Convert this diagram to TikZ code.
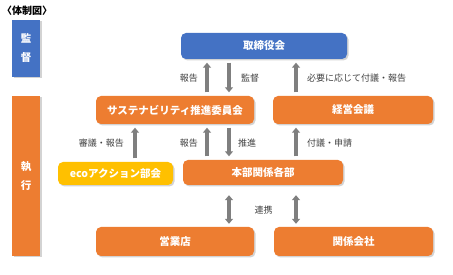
\documentclass[tikz,border=0pt]{standalone}
\usepackage{fontspec}
\setmainfont{Noto Sans CJK JP}
\usetikzlibrary{arrows.meta,positioning,shadows}
\definecolor{BoardBlue}{HTML}{4472C4}
\definecolor{ExecOrange}{HTML}{ED7D31}
\definecolor{EcoYellow}{HTML}{FFC000}
\definecolor{ArrGray}{HTML}{7F7F7F}
\definecolor{LabelGray}{HTML}{404040}

\begin{document}
\begin{tikzpicture}[x=1pt,y=-1pt,
unit/.style={rounded corners=5pt,text=white,inner sep=0pt,font=\bfseries\fontsize{10.5}{12}\selectfont,
  drop shadow={shadow xshift=1.5pt,shadow yshift=-1.5pt,opacity=0.35}},
bar/.style={minimum width=28pt,inner sep=0pt,text=white,align=center,font=\bfseries\fontsize{10.5}{12}\selectfont,
  drop shadow={shadow xshift=1.5pt,shadow yshift=-1.5pt,opacity=0.35}},
lbl/.style={text=LabelGray,inner sep=1pt,font=\fontsize{9}{11}\selectfont},
garr/.style={draw=ArrGray,line width=4pt,-{Triangle[width=8pt,length=5pt]},shorten <=3.5pt,shorten >=3.5pt},
gboth/.style={draw=ArrGray,line width=4pt,{Triangle[width=8pt,length=5pt]}-{Triangle[width=8pt,length=5pt]}}]
\useasboundingbox (0,0) rectangle (453,275);
\node[anchor=west,inner sep=0pt,font=\bfseries\fontsize{10}{12}\selectfont] (title) at (2,11) {〈体制図〉};
% side bars
\node[bar,fill=BoardBlue,minimum height=57pt] (kansa) at (26,48.5) {監\\[7pt]督};
\node[bar,fill=ExecOrange,minimum height=160pt] (shikko) at (26,176) {執\\[7pt]行};
% bodies
\node[unit,fill=BoardBlue,minimum width=166pt,minimum height=26pt] (board) at (264,46) {取締役会};
\node[unit,fill=ExecOrange,minimum width=158pt,minimum height=28pt] (sus) at (175,110) {サステナビリティ推進委員会};
\node[unit,fill=ExecOrange,minimum width=160pt,minimum height=28pt] (mgmt) at (353,110) {経営会議};
\node[unit,fill=EcoYellow,minimum width=115pt,minimum height=23pt] (eco) at (115.5,173.5) {ecoアクション部会};
\node[unit,fill=ExecOrange,minimum width=160pt,minimum height=25pt] (hq) at (263,172.5) {本部関係各部};
\node[unit,fill=ExecOrange,minimum width=158pt,minimum height=29pt] (branch) at (175,241.5) {営業店};
\node[unit,fill=ExecOrange,minimum width=159pt,minimum height=29pt] (affil) at (353.5,241.5) {関係会社};
% arrow columns
\coordinate (colD) at (135,0);
\coordinate (colA) at (207,0);
\coordinate (colB) at (229,0);
\coordinate (colC) at (296,0);
\draw[garr] (sus.north -| colA) -- (board.south -| colA);
\draw[garr] (board.south -| colB) -- (sus.north -| colB);
\draw[garr] (mgmt.north -| colC) -- (board.south -| colC);
\draw[garr] (eco.north -| colD) -- (sus.south -| colD);
\draw[garr] (hq.north -| colA) -- (sus.south -| colA);
\draw[garr] (sus.south -| colB) -- (hq.north -| colB);
\draw[garr] (hq.north -| colC) -- (mgmt.south -| colC);
\draw[gboth,shorten <=10pt,shorten >=3pt] (hq.south -| colB) -- (branch.north -| colB);
\draw[gboth,shorten <=10pt,shorten >=3pt] (hq.south -| colC) -- (affil.north -| colC);
% labels
\node[lbl,anchor=east] (l1) at (199,78) {報告};
\node[lbl,anchor=west] (l2) at (240,78) {監督};
\node[lbl,anchor=west] (l3) at (306,78) {必要に応じて付議・報告};
\node[lbl,anchor=east] (l4) at (125,143) {審議・報告};
\node[lbl,anchor=east] (l5) at (199,143) {報告};
\node[lbl,anchor=west] (l6) at (237,143) {推進};
\node[lbl,anchor=west] (l7) at (306,143) {付議・申請};
\node[lbl] (l8) at (263.5,210) {連携};
\end{tikzpicture}
\end{document}
